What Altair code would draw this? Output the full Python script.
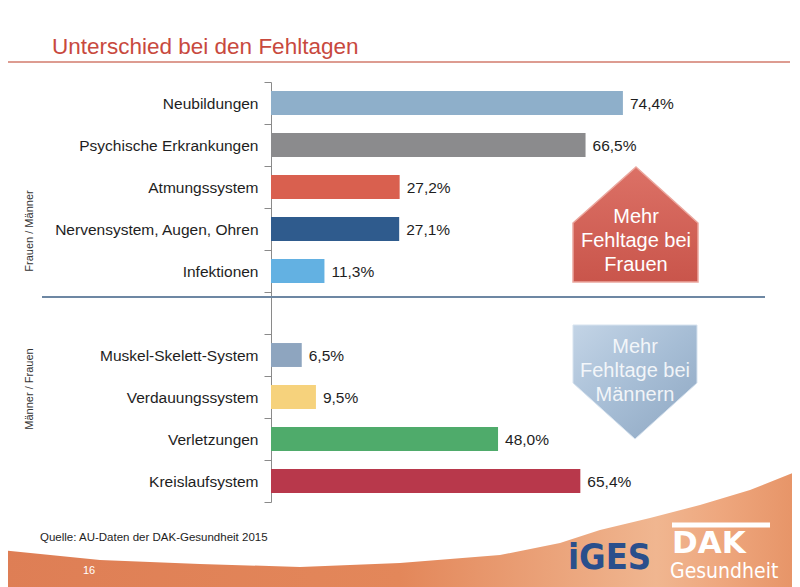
import altair as alt
import pandas as pd

# ---- data ----
upper_categories = ["Neubildungen", "Psychische Erkrankungen", "Atmungssystem",
                    "Nervensystem, Augen, Ohren", "Infektionen"]
upper_values = [74.4, 66.5, 27.2, 27.1, 11.3]
lower_categories = ["Muskel-Skelett-System", "Verdauungssystem", "Verletzungen", "Kreislaufsystem"]
lower_values = [6.5, 9.5, 48.0, 65.4]
upper_colors = ["#8eafca", "#8b8b8d", "#d9604f", "#2f5b8d", "#63b1e2"]
lower_colors = ["#8ea5bf", "#f6d27c", "#4fab6b", "#b8384b"]

title_text = "Unterschied bei den Fehltagen"
upper_side_label = "Frauen / Männer"
lower_side_label = "Männer / Frauen"
source_text = "Quelle: AU-Daten der DAK-Gesundheit 2015"
page_number = "16"
up_arrow_lines = ["Mehr", "Fehltage bei", "Frauen"]
down_arrow_lines = ["Mehr", "Fehltage bei", "Männern"]

# ---- table ----
spacer = " "
domain = upper_categories + [spacer] + lower_categories
df = pd.DataFrame({
    "category": upper_categories + lower_categories,
    "value": upper_values + lower_values,
    "color": upper_colors + lower_colors,
})
df["label"] = df["value"].map(lambda v: f"{v:.1f}".replace(".", ",") + "%")

FONT = "Liberation Sans"
NARROW = "DejaVu Sans Condensed, Liberation Sans, sans-serif"

y_enc = alt.Y("category:N", sort=domain,
              scale=alt.Scale(domain=domain, paddingInner=0, paddingOuter=0),
              axis=alt.Axis(title=None, tickBand="extent", labelFontSize=15.5, labelFont=FONT,
                            labelColor="#1e1e1e", tickSize=7, labelPadding=6,
                            domainColor="#8a8a8a", tickColor="#8a8a8a", labelLimit=300,
                            grid=False))
x_enc = alt.X("value:Q", scale=alt.Scale(domain=[0, 100], nice=False, zero=True), axis=None)

bars = alt.Chart(df).mark_bar(height=alt.RelativeBandSize(0.57)).encode(
    y=y_enc, x=x_enc, color=alt.Color("color:N", scale=None)
)
values = alt.Chart(df).mark_text(align="left", baseline="middle", dx=7, dy=1, fontSize=15.5,
                                 font=FONT, color="#1e1e1e").encode(
    y=alt.Y("category:N", sort=domain), x="value:Q", text="label:N"
)

deco = pd.DataFrame({"k": [0]})


def text_layer(txt, x, y, **kw):
    return alt.Chart(deco).mark_text(text=txt, font=kw.pop("font", FONT), **kw).encode(
        x=alt.value(x), y=alt.value(y))


def rule_layer(x1, x2, y, color, w):
    return alt.Chart(deco).mark_rule(color=color, strokeWidth=w).encode(
        x=alt.value(x1), x2=alt.value(x2), y=alt.value(y))


def shape_layer(path, fill, stroke="#ffffff", sw=0):
    return alt.Chart(deco).mark_point(shape=path, size=4, filled=True, fill=fill, opacity=1,
                                      stroke=stroke, strokeWidth=sw).encode(
        x=alt.value(0), y=alt.value(0))


def grad(stops, x1=0, y1=0, x2=0, y2=1):
    return alt.LinearGradient(gradient="linear", x1=x1, y1=y1, x2=x2, y2=y2,
                              stops=[alt.GradientStop(offset=o, color=c) for o, c in stops])


swoosh_path = ("M -271 468 L -171 478 L -71 482 L 29 485 L 129 481 L 229 473 L 289 461 "
               "L 329 448 L 379 436 L 429 423 L 479 408 L 529 388 L 529 505 L -271 505 Z")
house_path = "M 365 85 L 427 141 L 427 200 L 302 200 L 302 141 Z"
down_path = "M 302 243 L 426 243 L 426 301 L 364 357 L 302 301 Z"

layers = [
    shape_layer(swoosh_path, grad([(0, "#de7e55"), (0.5, "#e3875a"), (0.82, "#f0b690"),
                                   (0.9, "#eea77e"), (1, "#e69366")], 0, 0, 1, 0)),
    rule_layer(-267, 519, -20, "#d27b6c", 1.5),
    text_layer(title_text, -219, -28, fontSize=22.5, color="#c8493e", align="left",
               baseline="alphabetic"),
    rule_layer(-229, 494, 215, "#6d87a3", 2),
    text_layer(upper_side_label, -241, 149, fontSize=11, color="#333333", angle=270,
               align="center", baseline="middle"),
    text_layer(lower_side_label, -241, 307, fontSize=11, color="#333333", angle=270,
               align="center", baseline="middle"),
    bars,
    values,
    shape_layer(house_path, grad([(0, "#dc7166"), (1, "#c9554b")]), "#eba79e", 1.5),
    shape_layer(down_path, grad([(0, "#c3d4e6"), (0.5, "#a6bdd5"), (1, "#8ea7c2")], 0, 0, 1, 1),
                "#d7e3ef", 1),
]
for i, line in enumerate(up_arrow_lines):
    layers.append(text_layer(line, 365, 141 + 24 * i, fontSize=20, color="#ffffff",
                             align="center", baseline="alphabetic"))
for i, line in enumerate(down_arrow_lines):
    layers.append(text_layer(line, 364, 271 + 24 * i, fontSize=20, color="#ffffff",
                             opacity=0.85, align="center", baseline="alphabetic"))

layers += [
    text_layer(source_text, -231, 459, fontSize=11.5, color="#1e1e1e", align="left",
               baseline="alphabetic"),
    text_layer(page_number, -182, 489, fontSize=11, color="#ffffff", align="center",
               baseline="middle"),
    text_layer("iGES", 297, 487, font=NARROW, fontSize=36, fontWeight="bold",
               color="#2a4f8c", align="left", baseline="alphabetic"),
    rule_layer(401, 499, 443, "#ffffff", 5),
    text_layer("DAK", 401, 471, font="DejaVu Sans", fontSize=31, fontWeight="bold",
               color="#ffffff", align="left", baseline="alphabetic"),
    text_layer("Gesundheit", 399, 496, font=NARROW, fontSize=21,
               color="#ffffff", align="left", baseline="alphabetic"),
]

chart = alt.layer(*layers).properties(
    width=473, height=420,
    padding={"left": 263, "top": 74, "right": 48, "bottom": 85},
    autosize=alt.AutoSizeParams(type="none"),
    background="#ffffff",
).configure_view(stroke=None)

chart.save("out.html", embed_options={"renderer": "svg", "actions": False})
